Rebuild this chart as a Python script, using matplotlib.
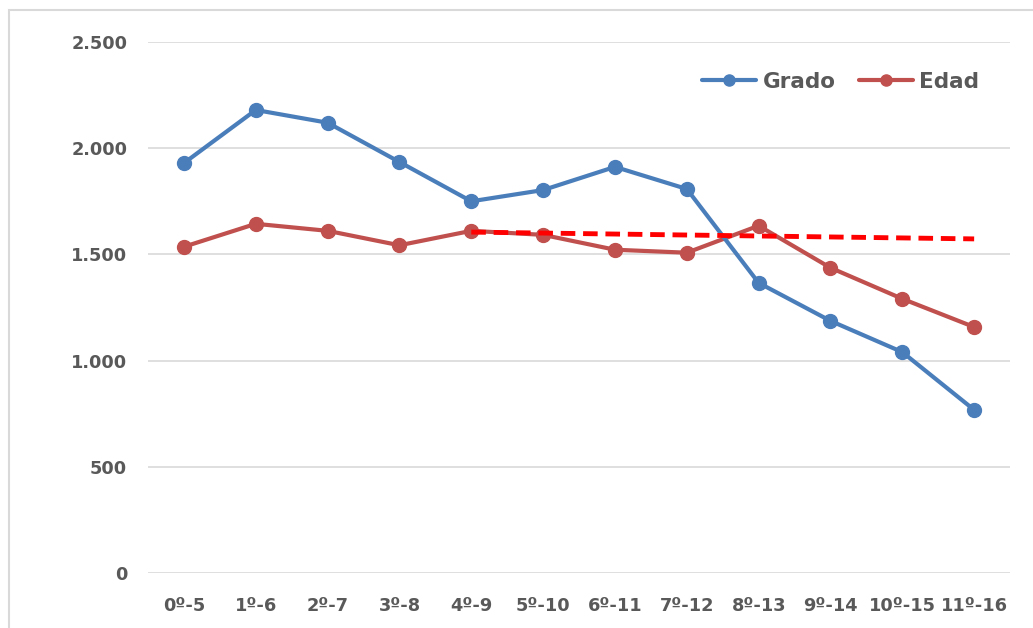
import matplotlib.pyplot as plt
from matplotlib.patches import Rectangle
from matplotlib.ticker import FuncFormatter

# datos
categorias = ["0º-5", "1º-6", "2º-7", "3º-8", "4º-9", "5º-10",
              "6º-11", "7º-12", "8º-13", "9º-14", "10º-15", "11º-16"]
grado = [1930, 2180, 2120, 1935, 1750, 1803, 1912, 1808, 1366, 1187, 1040, 768]
edad = [1536, 1644, 1611, 1543, 1611, 1592, 1522, 1508, 1635, 1437, 1291, 1158]

# linea discontinua (de 4º-9 a 11º-16)
tendencia_x = [4, 11]
tendencia_y = [1605, 1573]

AZUL = '#4A7EBB'
ROJO = '#C0504D'
GRIS = '#595959'

fig = plt.figure(figsize=(10.33, 6.28), dpi=100)
ax = fig.add_axes([0.1433, 0.0876, 0.8345, 0.8455])

# marco exterior del grafico
fig.patches.append(Rectangle((9 / 1033, -0.1), 1.2, (628 - 10) / 628 + 0.1,
                             transform=fig.transFigure, fill=False,
                             edgecolor='#d9d9d9', linewidth=1.5))

x = range(len(categorias))
ax.plot(x, grado, color=AZUL, linewidth=3, marker='o', markersize=10,
        label='Grado', zorder=4, solid_capstyle='round')
ax.plot(x, edad, color=ROJO, linewidth=3, marker='o', markersize=10,
        label='Edad', zorder=3, solid_capstyle='round')
ax.plot(tendencia_x, tendencia_y, color='#FF0000', linewidth=3.5,
        linestyle=(0, (3, 1.6)), zorder=5)

ax.set_xlim(-0.5, len(categorias) - 0.5)
ax.set_ylim(0, 2500)
ax.set_yticks(range(0, 2501, 500))
ax.yaxis.set_major_formatter(FuncFormatter(lambda v, p: f"{int(v):,}".replace(",", ".")))
ax.set_xticks(list(x))
ax.set_xticklabels(categorias)

ax.grid(axis='y', color='#d9d9d9', linewidth=1.2)
ax.set_axisbelow(True)
for lado in ['top', 'right', 'left', 'bottom']:
    ax.spines[lado].set_visible(False)
ax.tick_params(length=0, labelsize=12.8, labelcolor=GRIS)
ax.tick_params(axis='x', pad=17)
ax.tick_params(axis='y', pad=15)
for t in ax.get_xticklabels() + ax.get_yticklabels():
    t.set_fontweight('bold')

leg = ax.legend(loc='center right', bbox_to_anchor=(0.977, 0.925), ncol=2,
                frameon=False, fontsize=15.5, handlelength=2.5,
                handletextpad=0.3, columnspacing=1.1, borderpad=0,
                markerscale=0.8)
for t in leg.get_texts():
    t.set_color(GRIS)
    t.set_fontweight('bold')

fig.savefig('out.png', dpi=100)
